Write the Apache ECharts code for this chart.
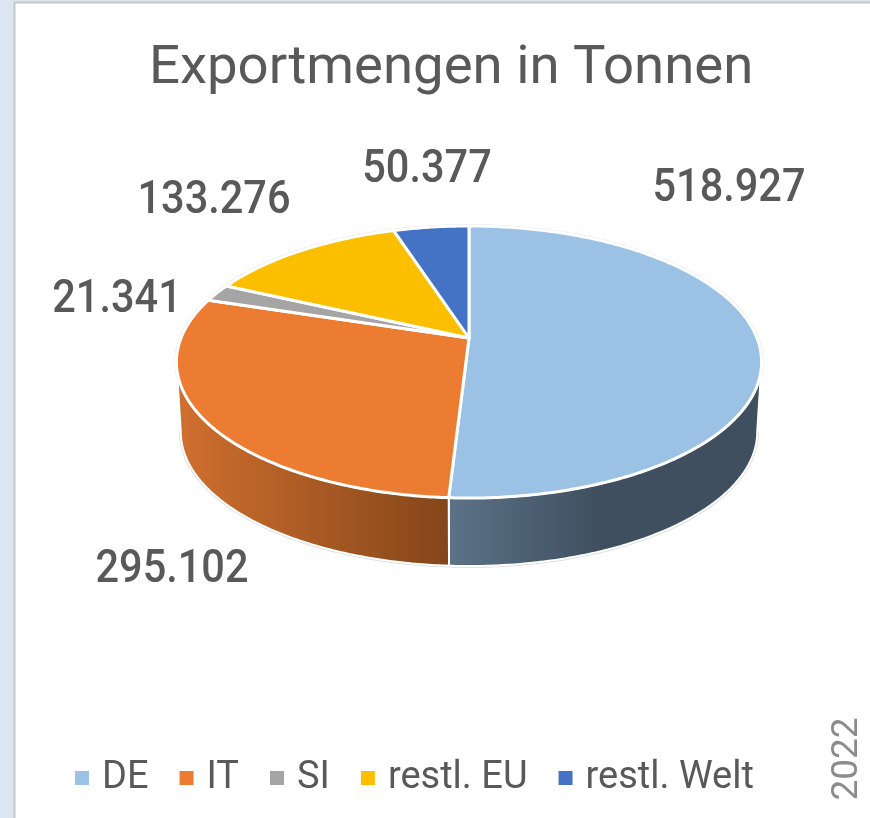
<!DOCTYPE html>
<html><head><meta charset="utf-8">
<style>html,body{margin:0;padding:0;background:#fff}#c{width:870px;height:818px}</style>
<script src="https://cdn.jsdelivr.net/npm/echarts@6/dist/echarts.min.js"></script>
</head><body><div id="c"></div>
<script>
const categories = ['DE', 'IT', 'SI', 'restl. EU', 'restl. Welt'];
const tonnes = [518927, 295102, 21341, 133276, 50377];
const colors = ['#9bc2e5', '#eb7c31', '#a5a5a5', '#fcbf00', '#4472c4'];
const labelCentres = [[729, 189], [172, 570], [117, 300], [214, 201], [427, 170]];
const titleText = 'Exportmengen in Tonnen';
const yearText = '2022';

const total = tonnes.reduce((a, b) => a + b, 0);
const CX = 469, CY = 338, R = 288, TILT = 131.8, PERSP = 0.1765;
const BASE_SCALE = 0.985, BASE_DROP = 70.4;
const WIDEST = Math.acos(-PERSP);

function project(theta, lower) {
  const u = Math.sin(theta), v = -Math.cos(theta), k = 1 - PERSP * v;
  const x = R * u / k, y = TILT * v / k;
  return lower ? [CX + x * BASE_SCALE, CY + y * BASE_SCALE + BASE_DROP] : [CX + x, CY + y];
}
function arc(a0, a1, lower) {
  const pts = [], n = Math.max(2, Math.ceil(Math.abs(a1 - a0) / 0.01));
  for (let i = 0; i <= n; i++) pts.push(project(a0 + (a1 - a0) * i / n, lower));
  return pts;
}
const wallFills = [
  new echarts.graphic.LinearGradient(450, 0, 600, 0, [{offset: 0, color: '#5b7288'}, {offset: 1, color: '#3f4f5f'}], true),
  new echarts.graphic.LinearGradient(180, 0, 447, 0, [{offset: 0, color: '#cf6f2e'}, {offset: 1, color: '#84461a'}], true)
];
const fmt = v => String(v).replace(/\B(?=(\d{3})+$)/g, '.');

function renderSlice(index) {
  return function (params, api) {
    const value = api.value(0);
    const before = tonnes.slice(0, index).reduce((a, b) => a + b, 0);
    const a0 = before / total * 2 * Math.PI, a1 = (before + value) / total * 2 * Math.PI;
    const children = [];
    children.push({type: 'polyline', z2: 0, shape: {points: arc(a0, a1, false)},
      style: {fill: null, stroke: '#d9d9d9', lineWidth: 3.5}});
    if (wallFills[index]) {
      const wa0 = Math.max(a0, WIDEST), wa1 = Math.min(a1, 2 * Math.PI - WIDEST);
      const top = arc(wa0, wa1, false), low = arc(wa1, wa0, true);
      children.push({type: 'polyline', z2: 0, shape: {points: low},
        style: {fill: null, stroke: '#d9d9d9', lineWidth: 3.5}});
      children.push({type: 'polygon', z2: 1, shape: {points: top.concat(low)},
        style: {fill: wallFills[index], stroke: '#fff', lineWidth: 2}});
    }
    children.push({type: 'polygon', z2: 5, shape: {points: [[CX, CY]].concat(arc(a0, a1, false))},
      style: {fill: colors[index], stroke: '#fff', lineWidth: 3, lineJoin: 'round'}});
    children.push({type: 'text', z2: 10, x: labelCentres[index][0], y: labelCentres[index][1], scaleY: 1.12,
      style: {text: fmt(value), fill: '#595959', font: '500 41.5px Roboto', align: 'center', verticalAlign: 'middle'}});
    return {type: 'group', children};
  };
}

const chart = echarts.init(document.getElementById('c'), null, {renderer: 'canvas'});
chart.setOption({
  animation: false,
  backgroundColor: '#dce6f1',
  title: {text: titleText, left: 144, top: 37,
    textStyle: {color: '#595959', fontFamily: 'Roboto', fontWeight: 400, fontSize: 54.5}},
  legend: {left: 75, top: 759, padding: 0, itemWidth: 14, itemHeight: 14, itemGap: 31, icon: 'rect',
    textStyle: {color: '#595959', fontFamily: 'Roboto', fontWeight: 400, fontSize: 38, padding: [0, 0, 0, 8]},
    data: categories},
  graphic: [
    {type: 'rect', z: -10, shape: {x: 14.5, y: 2.5, width: 900, height: 900},
      style: {fill: '#fff', stroke: '#c8c8c8', lineWidth: 2}},
    {type: 'text', z: 10, x: 848, y: 759, rotation: Math.PI / 2,
      style: {text: yearText, fill: '#8c8c8c', font: '37px Roboto', align: 'center', verticalAlign: 'middle'}}
  ],
  series: categories.map((name, i) => ({
    type: 'custom', name, coordinateSystem: 'none', silent: true,
    itemStyle: {color: colors[i]},
    renderItem: renderSlice(i),
    data: [[tonnes[i]]]
  }))
});
</script></body></html>
